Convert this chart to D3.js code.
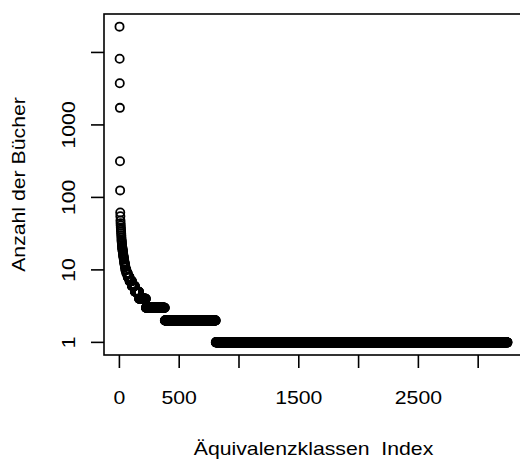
<!DOCTYPE html>
<html>
<head>
<meta charset="utf-8">
<script src="https://cdn.jsdelivr.net/npm/d3@7"></script>
<style>
  html, body { margin: 0; padding: 0; background: #fff; }
  svg text { font-family: "Liberation Sans", Arial, Helvetica, sans-serif; fill: #000; }
</style>
</head>
<body>
<div id="chart"></div>
<script>
// Anzahl der Buecher je Aequivalenzklasse (absteigend) und wie viele Klassen diesen Wert haben
var anzahl  = [22700, 8200, 3750, 1720, 315, 125, 62, 55, 48, 44, 41, 38, 36, 34, 32, 30, 28, 26,
               25, 24, 23, 22, 21, 20, 19, 18, 17, 16, 15, 14, 13, 12, 11, 10, 9, 8, 7, 6, 5, 4, 3, 2, 1];
var klassen = [1, 1, 1, 1, 1, 1, 1, 1, 1, 1, 1, 1, 1, 1, 1, 1, 1, 1,
               1, 1, 1, 1, 1, 2, 2, 2, 2, 2, 3, 3, 3, 4, 4, 8, 11, 15, 20, 25, 35, 57, 158, 426, 2440];

var xTicks = [0, 500, 1000, 1500, 2000, 2500, 3000];
var xLabels = [0, 500, 1500, 2500];
var yTicks = [1, 10, 100, 1000, 10000];
var yLabels = [1, 10, 100, 1000];

// one point per class, in sorted order
var data = [];
anzahl.forEach(function (v, i) {
  for (var k = 0; k < klassen[i]; k++) data.push({ index: data.length + 1, value: v });
});

var W = 520, H = 461;
var box = { left: 104, top: 14, right: 523, bottom: 355 };
var stretch = 1.18;

// R style 4% padding around the data range
var xExt = d3.extent(data, function (d) { return d.index; });
var xPad = (xExt[1] - xExt[0]) * 0.04;
var xScale = d3.scaleLinear().domain([xExt[0] - xPad, xExt[1] + xPad]).range([box.left, box.right]);

var lyExt = d3.extent(data, function (d) { return Math.log10(d.value); });
var lyPad = (lyExt[1] - lyExt[0]) * 0.04;
var yScale = d3.scaleLog().domain([Math.pow(10, lyExt[0] - lyPad), Math.pow(10, lyExt[1] + lyPad)])
  .range([box.bottom, box.top]);

var svg = d3.select('#chart').append('svg').attr('width', W).attr('height', H);

svg.append('g').classed('points', true)
  .selectAll('circle').data(data).enter().append('circle')
  .attr('cx', function (d) { return xScale(d.index); })
  .attr('cy', function (d) { return yScale(d.value); })
  .attr('r', 4.1)
  .style('fill', 'none').style('stroke', '#000').style('stroke-width', 1.8);

svg.append('rect')
  .attr('x', box.left).attr('y', box.top)
  .attr('width', box.right - box.left).attr('height', box.bottom - box.top)
  .style('fill', 'none').style('stroke', '#000').style('stroke-width', 1.6);

// x axis
var xAxis = svg.append('g').classed('x-axis', true);
xAxis.selectAll('line').data(xTicks).enter().append('line')
  .attr('x1', function (d) { return xScale(d); }).attr('x2', function (d) { return xScale(d); })
  .attr('y1', box.bottom).attr('y2', box.bottom + 13)
  .style('stroke', '#000').style('stroke-width', 1.6);
xAxis.selectAll('text').data(xLabels).enter().append('text')
  .attr('transform', function (d) { return 'translate(' + xScale(d) + ',404) scale(' + stretch + ',1)'; })
  .attr('text-anchor', 'middle').style('font-size', '18px')
  .text(function (d) { return d; });

// y axis
var yAxis = svg.append('g').classed('y-axis', true);
yAxis.selectAll('line').data(yTicks).enter().append('line')
  .attr('x1', box.left - 13).attr('x2', box.left)
  .attr('y1', function (d) { return yScale(d); }).attr('y2', function (d) { return yScale(d); })
  .style('stroke', '#000').style('stroke-width', 1.6);
yAxis.selectAll('text').data(yLabels).enter().append('text')
  .attr('transform', function (d) { return 'translate(75,' + yScale(d) + ') rotate(-90) scale(' + stretch + ',1)'; })
  .attr('text-anchor', 'middle').style('font-size', '18px')
  .text(function (d) { return d; });

// titles
var midX = (box.left + box.right) / 2, midY = (box.top + box.bottom) / 2;
svg.append('text')
  .attr('transform', 'translate(' + midX + ',455) scale(' + stretch + ',1)')
  .attr('text-anchor', 'middle').style('font-size', '18px').style('white-space', 'pre')
  .text('Äquivalenzklassen  Index');
svg.append('text')
  .attr('transform', 'translate(25,' + midY + ') rotate(-90) scale(' + stretch + ',1)')
  .attr('text-anchor', 'middle').style('font-size', '18px')
  .text('Anzahl der Bücher');
</script>
</body>
</html>
